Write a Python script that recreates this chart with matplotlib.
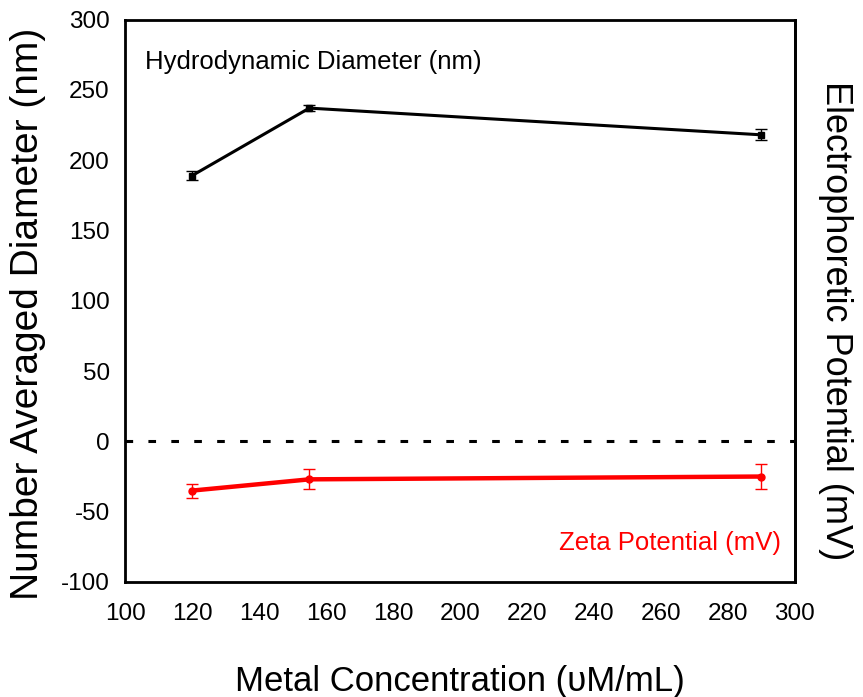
import matplotlib.pyplot as plt

plt.rcParams['font.family'] = ['Liberation Sans', 'DejaVu Sans']
plt.rcParams['axes.unicode_minus'] = False

# 金属濃度 (uM/mL)
conc = [120, 155, 290]
# 流体力学的直径 (nm)
diam = [189, 237, 218]
diam_err = [3, 2, 4]
# ゼータ電位 (mV)
zeta = [-35, -27, -25]
zeta_err = [5, 7, 9]

fig, ax = plt.subplots(figsize=(8.63, 6.97), dpi=100)
fig.subplots_adjust(left=0.145, right=0.921, top=0.972, bottom=0.165)

ax.errorbar(conc, diam, yerr=diam_err, color='black', lw=2.2, marker='s', ms=4.5,
            capsize=4, elinewidth=1, capthick=1)
ax.errorbar(conc, zeta, yerr=zeta_err, color='red', lw=3.2, marker='o', ms=5,
            capsize=4, elinewidth=1, capthick=1)
ax.axhline(0, color='black', ls=(0, (2.5, 5)), lw=2.2)

ax.set_xlim(100, 300)
ax.set_ylim(-100, 300)
ax.set_xticks(range(100, 301, 20))
ax.set_yticks(range(-100, 301, 50))
ax.tick_params(labelsize=17.5, length=0)
ax.tick_params(axis='x', pad=15)
ax.tick_params(axis='y', pad=11)
# 左右のスパインだけ下に少しはみ出す
ax.set_xticks([100, 300], minor=True)
ax.tick_params(axis='x', which='minor', direction='out', length=9, width=2)
for s in ax.spines.values():
    s.set_linewidth(2)

ax.set_xlabel('Metal Concentration (\u03c5M/mL)', fontsize=25, va='center')
ax.xaxis.set_label_coords(0.5, -0.177)
ax.set_ylabel('Number Averaged Diameter (nm)', fontsize=28, va='center')
ax.yaxis.set_label_coords(-0.145, 0.477)

ax2 = ax.twinx()
ax2.set_yticks([])
ax2.spines['right'].set_linewidth(2)
ax2.set_ylabel('Electrophoretic Potential (mV)', fontsize=26, rotation=270, va='center')
ax2.yaxis.set_label_coords(1.06, 0.465)

ax.text(106, 270, 'Hydrodynamic Diameter (nm)', fontsize=18.5, va='center')
ax.text(296, -72, 'Zeta Potential (mV)', fontsize=18.5, color='red', va='center', ha='right')

fig.savefig('out.png', dpi=100)
